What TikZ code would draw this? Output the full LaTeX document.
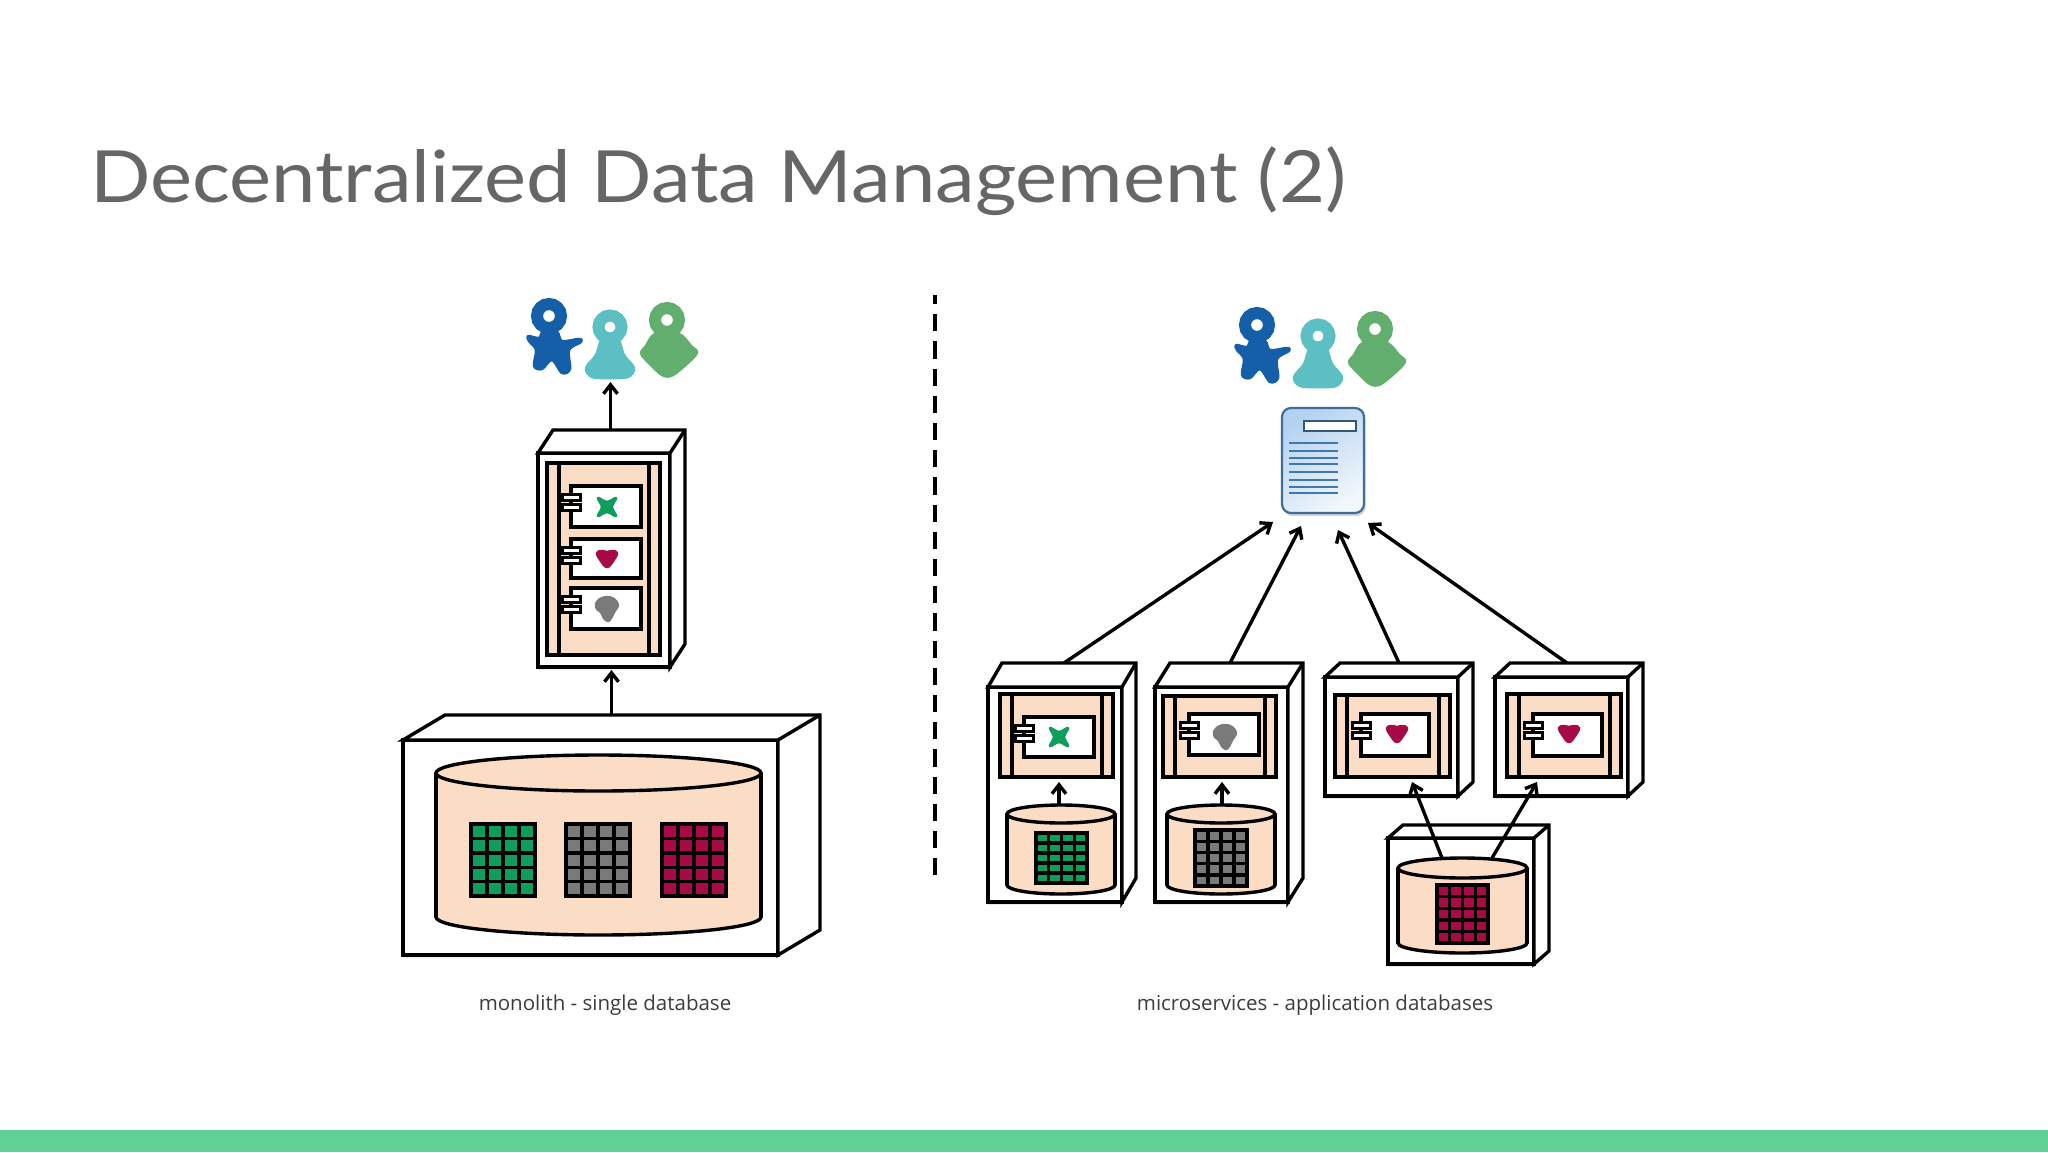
\documentclass[tikz,border=0pt]{standalone}
\usepackage{fontspec}
\setmainfont{Lato}
\newfontfamily\titlefont[FakeStretch=1.105]{Lato}
\newfontfamily\labelfont{Open Sans}
\usetikzlibrary{arrows.meta,calc,shapes.geometric,shadows}

\definecolor{peach}{HTML}{FBDCC4}
\definecolor{barcolor}{HTML}{62D195}
\definecolor{titlegray}{HTML}{666666}
\definecolor{labelgray}{HTML}{3C3C3C}
\definecolor{gridgreen}{HTML}{0F9D5C}
\definecolor{gridgray}{HTML}{7A7A7A}
\definecolor{gridred}{HTML}{A80A48}
\definecolor{userblue}{HTML}{155FA8}
\definecolor{usercyan}{HTML}{5CBFC4}
\definecolor{usergreen}{HTML}{62AE6E}
\definecolor{docedge}{HTML}{3F6E9A}
\definecolor{docline}{HTML}{3E78AE}
\definecolor{doctop}{HTML}{B4D2F0}
\definecolor{docend}{HTML}{F2F7FC}

% back and side faces behind a front face
\newcommand{\cubeback}[3]{
    \draw[edge,fill=white] (#1.north west) -- ++(#2,#3) -- ($(#1.north east)+(#2,#3)$)
        -- ($(#1.south east)+(#2,#3)$) -- (#1.south east) -- (#1.north east) -- cycle;
    \draw[edge] (#1.north east) -- ++(#2,#3);
}
% orange panel with its two bars
\newcommand{\apppanel}[5]{
    \node[panel,spanbox={#2,#3,#4,#5}] (#1) {};
    \draw[edge] ([xshift=12pt]#1.north west) -- ([xshift=12pt]#1.south west);
    \draw[edge] ([xshift=-11pt]#1.north east) -- ([xshift=-11pt]#1.south east);
}
% white module with two tabs
\newcommand{\appmodule}[5]{
    \node[modbox,spanbox={#2,#3,#4,#5}] (#1) {};
    \node[tabbox,spanbox={#2-9,#3+8,#2+9,#3+14}] (#1a) {};
    \node[tabbox,spanbox={#2-9,#3+18,#2+9,#3+24}] (#1b) {};
}
% table with 4 columns and 5 rows
\newcommand{\datagrid}[6]{
    \node[gridbox,fill=#6,spanbox={#2,#3,#4,#5}] (#1) {};
    \foreach \c in {1,2,3}
        \draw[edge] ($(#1.north west)!\c/4!(#1.north east)$) -- ($(#1.south west)!\c/4!(#1.south east)$);
    \foreach \r in {1,2,3,4}
        \draw[edge] ($(#1.north west)!\r/5!(#1.south west)$) -- ($(#1.north east)!\r/5!(#1.south east)$);
}
% cylinder: left, top, right, bottom of the sides, radius of the lid
\newcommand{\datastore}[6]{
    \node[lid,spanbox={#2,#5-#6,#4,#5+#6}] (#1base) {};
    \fill[peach] (#2,#3+#6) rectangle (#4,#5);
    \draw[edge] (#2,#3+#6) -- (#2,#5);
    \draw[edge] (#4,#3+#6) -- (#4,#5);
    \node[lid,spanbox={#2,#3,#4,#3+2*#6}] (#1) {};
}

\begin{document}
\begin{tikzpicture}[
                x=1pt, y=-1pt,
                edge/.style={draw=black,line width=3.4pt},
                spanbox/.style args={#1,#2,#3,#4}{at={({((#1)+(#3))/2},{((#2)+(#4))/2})},minimum width={(#3)-(#1)},minimum height={(#4)-(#2)}},
                face/.style={rectangle,edge,fill=white,inner sep=0pt,outer sep=0pt},
                front/.style={face,drop shadow={opacity=.18,shadow xshift=0pt,shadow yshift=-3pt}},
                panel/.style={face,fill=peach},
                modbox/.style={face},
                tabbox/.style={face,line width=3pt},
                gridbox/.style={face},
                lid/.style={ellipse,edge,fill=peach,inner sep=0pt,outer sep=0pt},
                arrow/.style={edge,-{Straight Barb[length=9pt,width=14pt]}},
                caption/.style={font=\labelfont\fontsize{20.5}{25}\selectfont,text=labelgray,anchor=base},
                head/.style={circle,line width=12pt,fill=white,minimum size=24pt,inner sep=0pt},
                blob/.style={fill=#1,draw=#1,line width=2.5pt,line join=round},
                users/.pic={
                    \path[blob=userblue] plot[smooth cycle,tension=.55] coordinates {(-6,16) (-10,22) (-21,20) (-20,25) (-13,34) (-15,50) (-7,53) (3,44) (13,57) (21,53) (20,34) (32,26) (30,23) (13,25) (8,16)};
                    \path[blob=usercyan] plot[smooth cycle,tension=.55] coordinates {(54,21) (47,39) (37,52) (43,61) (61,62) (79,61) (85,52) (75,39) (68,21)};
                    \path[blob=usergreen] plot[smooth cycle,tension=.5] coordinates {(106,18) (97,30) (92,37) (97,44) (113,59) (124,59) (142,44) (148,36) (142,30) (130,18)};
                    \node[head,draw=userblue] (-blue) at (0,0) {};
                    \node[head,draw=usercyan,minimum size=23pt] (-cyan) at (61,11) {};
                    \node[head,draw=usergreen] (-green) at (118,4) {};
                    \coordinate (-feet) at (61,63);
                },
                iconx/.pic={\path[blob=gridgreen] plot[smooth cycle,tension=.6] coordinates {(-9,-9) (0,-5) (9,-9) (5,0) (9,9) (0,5) (-9,9) (-5,0)};},
                iconheart/.pic={\path[blob=gridred] plot[smooth cycle,tension=.7] coordinates {(-10,-5) (-5,-7) (0,-6) (5,-7) (10,-5) (6,3) (0,9) (-6,3)};},
                iconblob/.pic={\path[blob=gridgray] plot[smooth cycle,tension=.55] coordinates {(-11,-3) (-7,-8) (0,-10) (7,-8) (11,-2) (7,5) (4,11) (1,14) (-3,11) (-6,5) (-10,2)};},
            ]
            \useasboundingbox (0,0) rectangle (2048,1152);

            % Title and bottom bar
            \fill[white] (0,0) rectangle (2048,1152);
            \node[font=\titlefont\fontsize{72}{86}\selectfont,text=titlegray,anchor=base west,inner sep=0pt] (title) at (90,202) {Decentralized Data Management (2)};
            \fill[barcolor] (0,1130) rectangle (2048,1152);

            % Monolith
            \pic (usersL) at (549,316) {users};

            \node[front,spanbox={538,453,670,667}] (monoapp) {};
            \cubeback{monoapp}{15}{-23}
            \apppanel{monopanel}{547}{463}{660}{655}
            \appmodule{modx}{571}{486}{641}{527}
            \appmodule{modheart}{571}{539}{641}{578}
            \appmodule{modblob}{571}{588}{641}{629}
            \pic at (607,507) {iconx};
            \pic at (607,558) {iconheart};
            \pic at (607,607) {iconblob};

            \node[front,spanbox={403,740,778,955}] (monodb) {};
            \cubeback{monodb}{42}{-25}
            \datastore{monostore}{436}{755}{761}{917}{18}
            \datagrid{monogreen}{471}{824}{535}{896}{gridgreen}
            \datagrid{monogray}{566}{824}{630}{896}{gridgray}
            \datagrid{monored}{662}{824}{726}{896}{gridred}

            \coordinate (appout) at (610.5,430);
            \coordinate (dbout) at (611.5,715);
            \draw[arrow,shorten >=3pt] (appout) -- (appout |- usersL-feet);
            \draw[arrow,shorten >=3pt] (dbout) -- (dbout |- monoapp.south);

            % Divider
            \coordinate (divtop) at (935,295);
            \coordinate (divend) at (935,878);
            \draw[line width=4pt,dash pattern=on 17.2pt off 10pt,dash phase=8pt] (divtop) -- (divend);

            % Microservices
            \pic (usersR) at (1257,325) {users};

            \node[rectangle,rounded corners=9pt,draw=docedge,line width=2.2pt,top color=doctop,bottom color=docend,shading angle=35,drop shadow={opacity=.35,shadow xshift=1.5pt,shadow yshift=-3pt},inner sep=0pt,spanbox={1282,408,1364,513}] (doc) {};
            \node[rectangle,draw=docedge!80!black,line width=1.8pt,fill=white,inner sep=0pt,spanbox={1304,421,1356,431}] (docbar) {};
            \foreach \y in {443,451,458,464,472,480,487,493}
                \draw[draw=docline,line width=1.6pt] (1289,\y) -- (1338,\y);

            % Service A
            \node[front,spanbox={988,687,1122,902}] (srvA) {};
            \cubeback{srvA}{14}{-24}
            \apppanel{panelA}{1000}{694}{1113}{777}
            \appmodule{modA}{1024}{717}{1094}{757}
            \pic at (1059,737) {iconx};
            \datastore{storeA}{1007}{805}{1115}{885}{9}
            \datagrid{gridA}{1036}{833}{1087}{883}{gridgreen}

            % Service B
            \node[front,spanbox={1155,687,1288,902}] (srvB) {};
            \cubeback{srvB}{15}{-24}
            \apppanel{panelB}{1163}{696}{1276}{777}
            \appmodule{modB}{1189}{714}{1259}{755}
            \pic at (1225,735) {iconblob};
            \datastore{storeB}{1167}{805}{1275}{885}{9}
            \datagrid{gridB}{1195}{830}{1247}{886}{gridgray}

            % Service C
            \node[front,spanbox={1325,677,1458,796}] (srvC) {};
            \cubeback{srvC}{15}{-14}
            \apppanel{panelC}{1335}{695}{1450}{777}
            \appmodule{modC}{1361}{714}{1429}{756}
            \pic at (1397,733) {iconheart};

            % Service D
            \node[front,spanbox={1495,677,1628,796}] (srvD) {};
            \cubeback{srvD}{15}{-14}
            \apppanel{panelD}{1507}{694}{1621}{777}
            \appmodule{modD}{1533}{714}{1602}{756}
            \pic at (1569,733) {iconheart};

            % Shared database
            \node[front,spanbox={1388,838,1534,964}] (srvE) {};
            \cubeback{srvE}{15}{-13}
            \datastore{storeE}{1398}{858}{1527}{943}{10}
            \datagrid{gridE}{1437}{885}{1488}{943}{gridred}

            % Draw connections
            \coordinate (outA) at (1064,663);
            \coordinate (outB) at (1230,663);
            \coordinate (outC) at (1399,663);
            \coordinate (outD) at (1567,663);
            \coordinate (tipA) at (1273,522);
            \coordinate (tipB) at (1301,526);
            \coordinate (tipC) at (1338,530);
            \coordinate (tipD) at (1368,523);
            \draw[arrow] (outA) -- (tipA);
            \draw[arrow] (outB) -- (tipB);
            \draw[arrow] (outC) -- (tipC);
            \draw[arrow] (outD) -- (tipD);
            \draw[arrow,shorten >=5pt] ([xshift=-2pt]storeA.north) -- ([xshift=2.5pt]panelA.south);
            \draw[arrow,shorten >=5pt] ([xshift=1pt]storeB.north) -- ([xshift=2.5pt]panelB.south);
            \coordinate (tipE) at (1412,782);
            \coordinate (tipF) at (1537,782);
            \coordinate (outE) at (1442,858);
            \coordinate (outF) at (1492,858);
            \draw[arrow] (outE) -- (tipE);
            \draw[arrow] (outF) -- (tipF);

            % Captions
            \node[caption] (capL) at (605,1010) {monolith - single database};
            \node[caption] (capR) at (1315,1010) {microservices - application databases};

            \end{tikzpicture}
\end{document}
